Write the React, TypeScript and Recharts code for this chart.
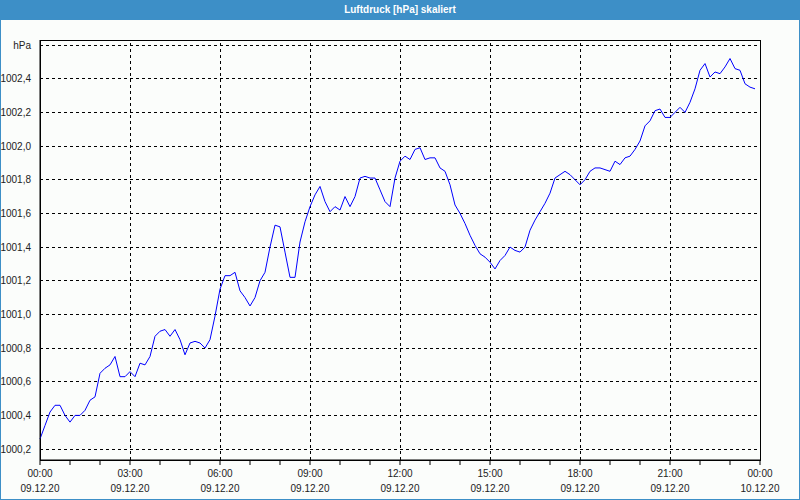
import { LineChart, Line, XAxis, YAxis, CartesianGrid, ReferenceLine, ReferenceArea } from 'recharts';

// Luftdruck in hPa, alle 10 Minuten ab 09.12.20 00:00
const pressure = [
  1000.26, 1000.34, 1000.42, 1000.46, 1000.46, 1000.40, 1000.36, 1000.40, 1000.40, 1000.43,
  1000.49, 1000.51, 1000.65, 1000.68, 1000.70, 1000.75, 1000.63, 1000.63, 1000.66, 1000.63,
  1000.71, 1000.70, 1000.75, 1000.87, 1000.90, 1000.91, 1000.87, 1000.91, 1000.85, 1000.76,
  1000.83, 1000.84, 1000.83, 1000.80, 1000.85, 1000.99, 1001.15, 1001.23, 1001.23, 1001.25,
  1001.14, 1001.10, 1001.05, 1001.10, 1001.20, 1001.25, 1001.40, 1001.53, 1001.52, 1001.37,
  1001.22, 1001.22, 1001.43, 1001.55, 1001.64, 1001.71, 1001.76, 1001.67, 1001.61, 1001.64,
  1001.62, 1001.70, 1001.64, 1001.70, 1001.81, 1001.82, 1001.81, 1001.81, 1001.74, 1001.67,
  1001.64, 1001.81, 1001.91, 1001.94, 1001.92, 1001.98, 1001.99, 1001.92, 1001.93, 1001.93,
  1001.87, 1001.85, 1001.77, 1001.65, 1001.60, 1001.54, 1001.47, 1001.41, 1001.36, 1001.34,
  1001.31, 1001.27, 1001.32, 1001.35, 1001.40, 1001.38, 1001.37, 1001.40, 1001.50, 1001.56,
  1001.61, 1001.66, 1001.72, 1001.81, 1001.83, 1001.85, 1001.83, 1001.80, 1001.77, 1001.80,
  1001.85, 1001.87, 1001.87, 1001.86, 1001.85, 1001.91, 1001.89, 1001.93, 1001.94, 1001.98,
  1002.03, 1002.12, 1002.15, 1002.21, 1002.22, 1002.17, 1002.17, 1002.20, 1002.23, 1002.20,
  1002.26, 1002.34, 1002.45, 1002.49, 1002.41, 1002.44, 1002.43, 1002.47, 1002.52, 1002.46,
  1002.45, 1002.37, 1002.35, 1002.34,
];

const timeLabels = ['00:00', '03:00', '06:00', '09:00', '12:00', '15:00', '18:00', '21:00', '00:00'];
const dateLabels = ['09.12.20', '09.12.20', '09.12.20', '09.12.20', '09.12.20', '09.12.20', '09.12.20', '09.12.20', '10.12.20'];
const yTicks = [1000.2, 1000.4, 1000.6, 1000.8, 1001.0, 1001.2, 1001.4, 1001.6, 1001.8, 1002.0, 1002.2, 1002.4, 1002.6];

const Y_MIN = 1000.135;
const Y_MAX = 1002.63;

const data = pressure.map((p, i) => ({ t: i * 10, p }));
const hourTicks = Array.from({ length: 25 }, (_, i) => i * 60);
const majorTicks = timeLabels.map((_, i) => i * 180);

const FONT = '"Liberation Sans", Arial, sans-serif';
const BLUE = '#3d8fc7';

function TimeTick(props: any) {
  const { x, y, payload } = props;
  const v = payload.value as number;
  if (v % 180 !== 0) return <g />;
  const idx = v / 180;
  return (
    <g>
      <text x={x} y={y + 12} textAnchor="middle" fontSize={10} fontFamily={FONT} fill="#222">
        {timeLabels[idx]}
      </text>
      <text x={x} y={y + 27} textAnchor="middle" fontSize={10} fontFamily={FONT} fill="#222">
        {dateLabels[idx]}
      </text>
    </g>
  );
}

function fmtY(v: number) {
  if (Math.abs(v - 1002.6) < 1e-6) return 'hPa';
  return v.toFixed(1).replace('.', ',');
}

export default function App() {
  return (
    <div style={{ position: 'absolute', left: 0, top: 0, width: 800, height: 500, background: '#fbfdfb', overflow: 'hidden' }}>
      <div
        style={{
          position: 'absolute', left: 0, top: 0, width: 800, height: 20, background: BLUE,
          color: '#fff', fontFamily: FONT, fontWeight: 'bold', fontSize: 10,
          lineHeight: '20px', textAlign: 'center',
        }}
      >
        Luftdruck [hPa] skaliert
      </div>
      <div style={{ position: 'absolute', left: 0, top: 20 }}>
        <LineChart width={800} height={480} data={data} margin={{ top: 20, right: 40, left: 0, bottom: 0 }}>
          <CartesianGrid vertical={false} stroke="#000" strokeDasharray="3 3" shapeRendering="crispEdges" />
          <XAxis
            type="number"
            dataKey="t"
            domain={[0, 1440]}
            ticks={hourTicks}
            interval={0}
            height={40}
            tickSize={5}
            tickMargin={0}
            stroke="#000"
            tick={<TimeTick />}
          />
          <YAxis
            type="number"
            domain={[Y_MIN, Y_MAX]}
            ticks={yTicks}
            interval={0}
            allowDataOverflow
            width={40}
            tickLine={false}
            tickMargin={3}
            stroke="#000"
            tick={{ fontSize: 10, fontFamily: FONT, fill: '#222' }}
            tickFormatter={fmtY}
          />
          {majorTicks.slice(1, -1).map((t) => (
            <ReferenceLine key={t} x={t} stroke="#000" strokeDasharray="3 3" shapeRendering="crispEdges" />
          ))}
          <ReferenceArea x1={0} x2={1440} y1={Y_MIN} y2={Y_MAX} fill="none" stroke="#000" strokeWidth={1} shapeRendering="crispEdges" />
          <Line
            type="linear"
            dataKey="p"
            stroke="#0000ff"
            strokeWidth={1}
            dot={false}
            isAnimationActive={false}
          />
        </LineChart>
      </div>
      <div style={{ position: 'absolute', left: 0, top: 0, width: 800, height: 500, boxSizing: 'border-box', border: `1px solid ${BLUE}`, pointerEvents: 'none' }} />
    </div>
  );
}
